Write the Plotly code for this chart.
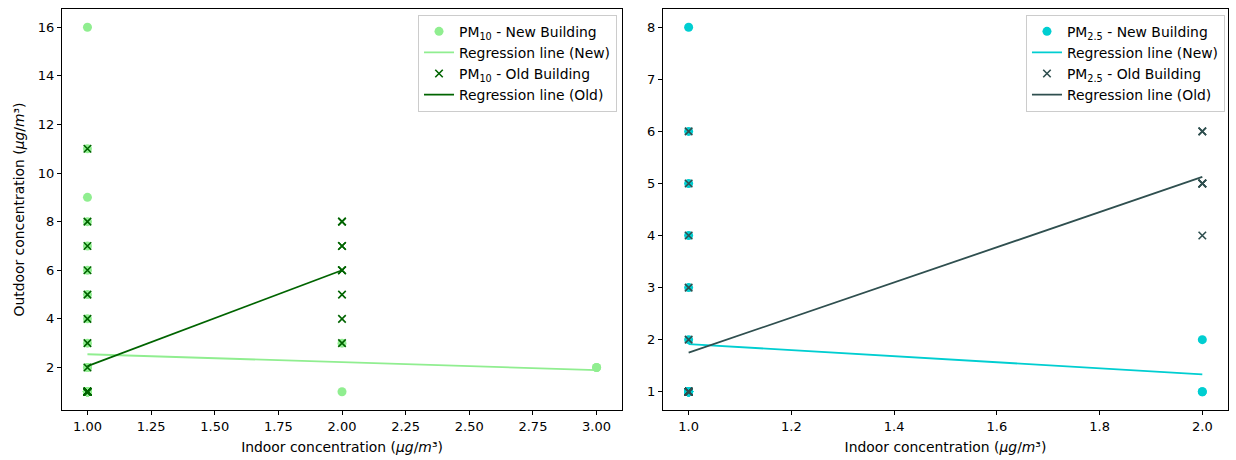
import numpy as np
import plotly.graph_objects as go

# ---- PM10 samples: indoor vs outdoor concentration (µg/m³) ----
pm10_new_indoor = [1] * 40 + [2, 2, 3, 3]
pm10_new_outdoor = [16, 11, 9, 8, 7, 6, 5, 4, 3, 2, 1] + [1] * 28 + [2] + [1, 3, 2, 2]

pm10_old_indoor = [1] * 36 + [2] * 10
pm10_old_outdoor = [11, 8, 7, 6, 5, 4, 3, 2, 1] + [1] * 27 + [8, 7, 6, 5, 4, 3, 8, 7, 6, 6]

# ---- PM2.5 samples ----
pm25_new_indoor = [1] * 24 + [2] * 3
pm25_new_outdoor = [8, 6, 5, 4, 3, 2, 1] + [1] * 17 + [2, 1, 1]

pm25_old_indoor = [1] * 20 + [2] * 8
pm25_old_outdoor = [6, 5, 4, 3, 2, 1] + [1] * 14 + [6, 6, 5, 5, 5, 5, 5, 4]

# tick labels
pm10_xticks = [1.0, 1.25, 1.5, 1.75, 2.0, 2.25, 2.5, 2.75, 3.0]
pm10_yticks = [2, 4, 6, 8, 10, 12, 14, 16]
pm25_xticks = [1.0, 1.2, 1.4, 1.6, 1.8, 2.0]
pm25_yticks = [1, 2, 3, 4, 5, 6, 7, 8]

LIGHTGREEN = "#90EE90"
DARKGREEN = "#006400"
TURQUOISE = "#00CED1"
SLATE = "#2F4F4F"
FONT = "DejaVu Sans"
FS = 13.9


def regression(x, y):
    x = np.asarray(x, dtype=float)
    y = np.asarray(y, dtype=float)
    slope, intercept = np.polyfit(x, y, 1)
    xs = np.array([x.min(), x.max()])
    return xs, slope * xs + intercept


fig = go.Figure()


def add_panel(xaxis, yaxis, legend, label, new_x, new_y, old_x, old_y, c_new, c_old, grp):
    fig.add_trace(go.Scatter(
        x=new_x, y=new_y, mode="markers", name=f"{label} - New Building",
        marker=dict(symbol="circle", size=9, color=c_new),
        xaxis=xaxis, yaxis=yaxis, legend=legend, legendgroup=grp + "a"))
    rx, ry = regression(new_x, new_y)
    fig.add_trace(go.Scatter(
        x=rx, y=ry, mode="lines", name="Regression line (New)",
        line=dict(color=c_new, width=1.8),
        xaxis=xaxis, yaxis=yaxis, legend=legend, legendgroup=grp + "b"))
    fig.add_trace(go.Scatter(
        x=old_x, y=old_y, mode="markers", name=f"{label} - Old Building",
        marker=dict(symbol="x-thin", size=7.5, color=c_old,
                    line=dict(color=c_old, width=1.6)),
        xaxis=xaxis, yaxis=yaxis, legend=legend, legendgroup=grp + "c"))
    rx, ry = regression(old_x, old_y)
    fig.add_trace(go.Scatter(
        x=rx, y=ry, mode="lines", name="Regression line (Old)",
        line=dict(color=c_old, width=1.8),
        xaxis=xaxis, yaxis=yaxis, legend=legend, legendgroup=grp + "d"))


add_panel("x", "y", "legend", "PM<sub>10</sub>",
          pm10_new_indoor, pm10_new_outdoor, pm10_old_indoor, pm10_old_outdoor,
          LIGHTGREEN, DARKGREEN, "pm10")
add_panel("x2", "y2", "legend2", "PM<sub>2.5</sub>",
          pm25_new_indoor, pm25_new_outdoor, pm25_old_indoor, pm25_old_outdoor,
          TURQUOISE, SLATE, "pm25")

axis_style = dict(
    showline=True, mirror=True, linecolor="black", linewidth=1,
    ticks="outside", ticklen=4, tickcolor="black", tickwidth=1,
    showgrid=False, zeroline=False,
    tickfont=dict(family=FONT, size=FS - 0.9, color="black"),
)
unit = "(<i>µg</i>/<i>m</i>³)"
title_font = dict(family=FONT, size=FS, color="black")

legend_style = dict(
    xanchor="right", yanchor="top",
    bgcolor="rgba(255,255,255,0.8)", bordercolor="#cccccc", borderwidth=1,
    font=dict(family=FONT, size=FS, color="black"),
    tracegroupgap=5, traceorder="normal", itemwidth=30,
)

fig.update_layout(
    width=1236, height=460,
    margin=dict(l=62, r=8, t=9, b=50),
    paper_bgcolor="white", plot_bgcolor="white",
    font=dict(family=FONT, size=FS, color="black"),
    showlegend=True,
    xaxis=dict(domain=[0, 0.4803], range=[0.9, 3.1], tickvals=pm10_xticks,
               tickformat=".2f", anchor="y",
               title=dict(text="Indoor concentration " + unit, font=title_font, standoff=9),
               **axis_style),
    yaxis=dict(domain=[0, 1], range=[0.25, 16.75], tickvals=pm10_yticks, anchor="x",
               title=dict(text="Outdoor concentration " + unit, font=title_font, standoff=9),
               **axis_style),
    xaxis2=dict(domain=[0.5154, 1], range=[0.95, 2.05], tickvals=pm25_xticks,
                tickformat=".1f", anchor="y2",
                title=dict(text="Indoor concentration " + unit, font=title_font, standoff=9),
                **axis_style),
    yaxis2=dict(domain=[0, 1], range=[0.65, 8.35], tickvals=pm25_yticks, anchor="x2",
                **axis_style),
    legend=dict(x=0.476, y=0.9855, **legend_style),
    legend2=dict(x=0.9974, y=0.9855, **legend_style),
)

fig.write_html("out.html")
